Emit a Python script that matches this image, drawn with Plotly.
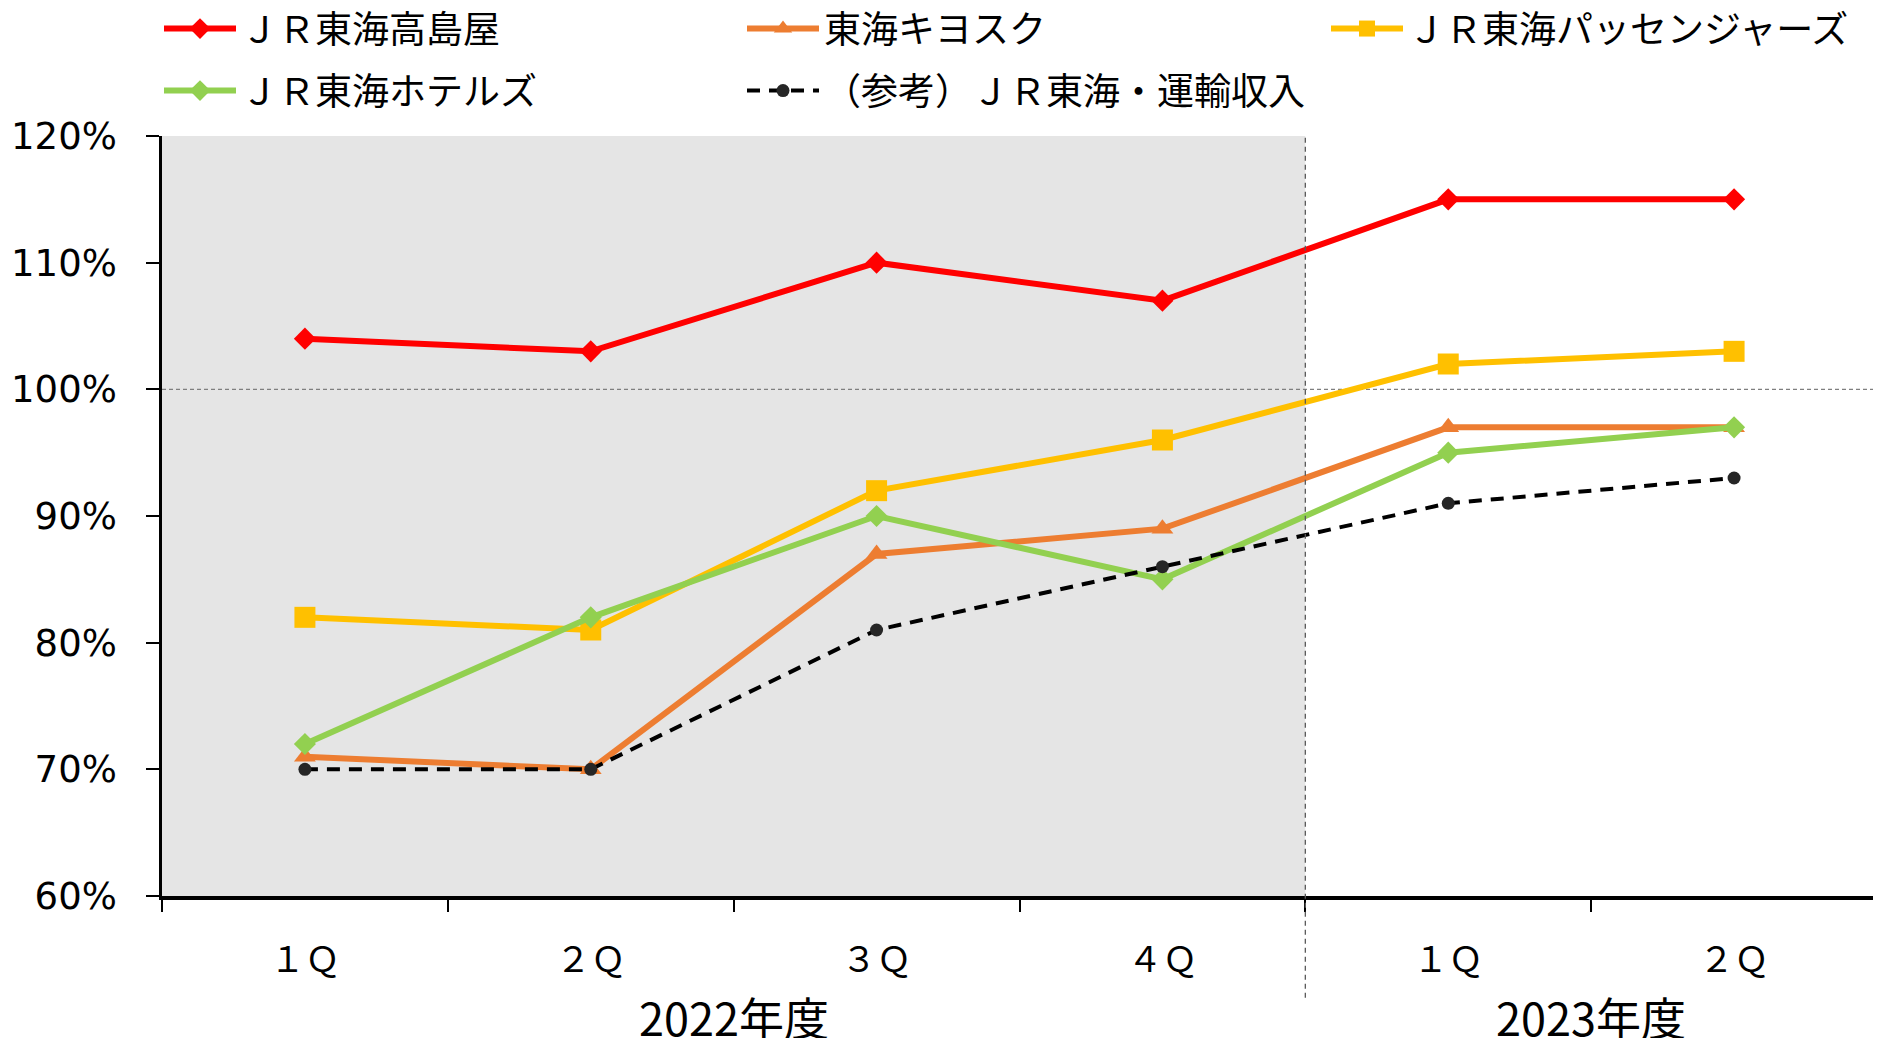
import plotly.graph_objects as go

quarters = ["１Ｑ", "２Ｑ", "３Ｑ", "４Ｑ", "１Ｑ", "２Ｑ"]
years = ["2022年度", "2023年度"]
takashimaya = [104, 103, 110, 107, 115, 115]
kiosk = [71, 70, 87, 89, 97, 97]
passengers = [82, 81, 92, 96, 102, 103]
hotels = [72, 82, 90, 85, 95, 97]
railway = [70, 70, 81, 86, 91, 93]

names = ["ＪＲ東海高島屋", "東海キヨスク", "ＪＲ東海パッセンジャーズ", "ＪＲ東海ホテルズ", "（参考）ＪＲ東海・運輸収入"]
series = [takashimaya, kiosk, passengers, hotels, railway]
colors = ["#FF0000", "#ED7D31", "#FFC000", "#92D050", "#000000"]
mcolors = ["#FF0000", "#ED7D31", "#FFC000", "#92D050", "#262626"]
symbols = ["diamond", "triangle-up", "square", "diamond", "circle"]
msizes = [17, 19, 21, 17, 13]
dashes = ["solid", "solid", "solid", "solid", "13px,9px"]
widths = [6, 6, 6, 6, 4]
legend_ids = ["legend", "legend2", "legend3", "legend4", "legend5"]

# figure size compensates for the page's default 8px body margin
W, H = 1873, 1030
BW = 8  # transparent legend border, gives the glyphs room inside the legend box
legend_pos = {  # (x, y) in container fractions
    "legend": ((151 - BW) / W, 1 - 21 / H),
    "legend2": ((734 - BW) / W, 1 - 21 / H),
    "legend3": ((1318 - BW) / W, 1 - 21 / H),
    "legend4": ((151 - BW) / W, 1 - 83 / H),
    "legend5": ((734 - BW) / W, 1 - 83 / H),
}

x = list(range(len(quarters)))

fig = go.Figure()
for n, s, c, mc, sym, ms, d, w, lg in zip(names, series, colors, mcolors, symbols, msizes, dashes, widths, legend_ids):
    fig.add_trace(go.Scatter(
        x=x, y=s, name=n, mode="lines+markers", legend=lg,
        line=dict(color=c, width=w, dash=d),
        marker=dict(symbol=sym, size=ms, color=mc),
    ))

# shaded 2022 region
fig.add_shape(type="rect", xref="x", yref="y", x0=-0.5, x1=3.5, y0=60, y1=120,
              fillcolor="#E5E5E5", line=dict(width=0), layer="below")
# 100% reference line
fig.add_shape(type="line", xref="x", yref="y", x0=-0.5, x1=5.5, y0=100, y1=100,
              line=dict(color="#7F7F7F", width=1.3, dash="4px,3px"), layer="below")
# year divider
fig.add_shape(type="line", xref="x", yref="paper", x0=3.5, x1=3.5, y0=-0.134, y1=1,
              line=dict(color="#595959", width=1.3, dash="5px,4px"), layer="above")

for xc, yr in zip([1.5, 4.5], years):
    fig.add_annotation(x=xc, y=-0.159, xref="x", yref="paper", text=yr, showarrow=False,
                       yanchor="middle", font=dict(family="Noto Sans CJK JP", size=45, color="#000"))

legend_common = dict(orientation="h", xref="container", yref="container", xanchor="left",
                     yanchor="middle", itemwidth=72, borderwidth=BW,
                     bordercolor="rgba(0,0,0,0)",
                     font=dict(family="Noto Sans CJK JP", size=37, color="#000"),
                     bgcolor="rgba(0,0,0,0)")
legend_layout = {k: dict(x=v[0], y=v[1], **legend_common) for k, v in legend_pos.items()}

fig.update_layout(
    width=W, height=H,
    margin=dict(l=154, r=4, t=128, b=142, autoexpand=False),
    plot_bgcolor="white", paper_bgcolor="white",
    showlegend=True,
    xaxis=dict(range=[-0.5, 5.5], tickvals=x, ticktext=quarters, ticks="",
               showgrid=False, zeroline=False, showline=True, linecolor="#000", linewidth=3.5,
               ticklabelstandoff=30, automargin=False,
               tickfont=dict(family="Noto Sans CJK JP", size=35, color="#000"),
               minor=dict(tickvals=[-0.5, 0.5, 1.5, 2.5, 3.5, 4.5, 5.5], ticks="outside",
                          ticklen=12, tickwidth=1.5, tickcolor="#000", showgrid=False)),
    yaxis=dict(range=[60, 120], dtick=10, ticksuffix="%", ticks="outside", ticklen=13,
               tickwidth=2, tickcolor="#000", showgrid=False, zeroline=False,
               showline=True, linecolor="#000", linewidth=2.5, ticklabelstandoff=22,
               automargin=False,
               tickfont=dict(family="DejaVu Sans", size=37, color="#000")),
    **legend_layout,
)

fig.write_html("out.html")
